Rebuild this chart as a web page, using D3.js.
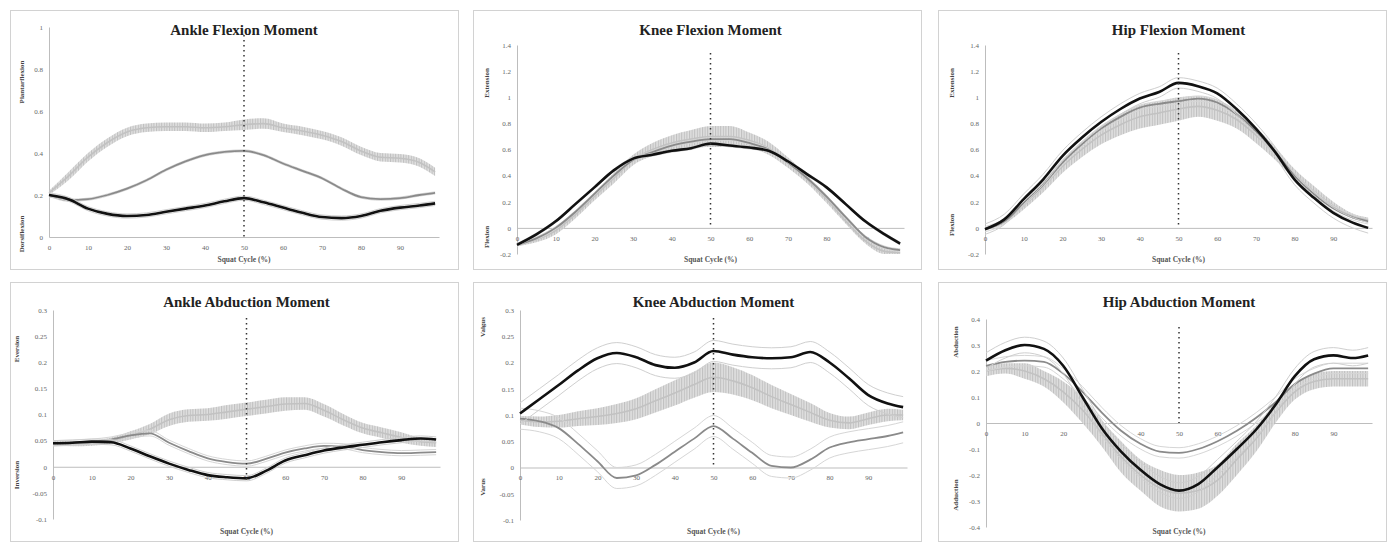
<!DOCTYPE html>
<html>
<head>
<meta charset="utf-8">
<script src="https://cdn.jsdelivr.net/npm/d3@7"></script>
<style>
  body { margin: 0; background: #fff; }
  svg { display: block; }
</style>
</head>
<body>
<div id="chart"></div>
<script>
// ---- data ----
var titles = ["Ankle Flexion Moment", "Knee Flexion Moment", "Hip Flexion Moment",
              "Ankle Abduction Moment", "Knee Abduction Moment", "Hip Abduction Moment"];
var topLabels = ["Plantarflexion", "Extension", "Extension", "Eversion", "Valgus", "Abduction"];
var bottomLabels = ["Dorsiflexion", "Flexion", "Flexion", "Inversion", "Varus", "Adduction"];
var xLabel = "Squat Cycle (%)";
var xTicks = [0, 10, 20, 30, 40, 50, 60, 70, 80, 90];
var yDomains = [[0, 1], [-0.2, 1.4], [-0.2, 1.4], [-0.1, 0.3], [-0.1, 0.3], [-0.4, 0.4]];
var yTicks = [
  [0, 0.2, 0.4, 0.6, 0.8, 1],
  [-0.2, 0, 0.2, 0.4, 0.6, 0.8, 1, 1.2, 1.4],
  [-0.2, 0, 0.2, 0.4, 0.6, 0.8, 1, 1.2, 1.4],
  [-0.1, -0.05, 0, 0.05, 0.1, 0.15, 0.2, 0.25, 0.3],
  [-0.1, -0.05, 0, 0.05, 0.1, 0.15, 0.2, 0.25, 0.3],
  [-0.4, -0.3, -0.2, -0.1, 0, 0.1, 0.2, 0.3, 0.4]
];

// squat cycle points (%)
var pct = [0, 5, 10, 15, 20, 25, 30, 35, 40, 45, 50, 55, 60, 65, 70, 75, 80, 85, 90, 95, 99];

// black group mean
var blackMean = [
  [0.20, 0.18, 0.135, 0.11, 0.10, 0.105, 0.12, 0.135, 0.15, 0.17, 0.185, 0.165, 0.14, 0.115, 0.095, 0.09, 0.10, 0.125, 0.14, 0.15, 0.16],
  [-0.13, -0.05, 0.05, 0.18, 0.31, 0.44, 0.53, 0.56, 0.59, 0.61, 0.645, 0.63, 0.615, 0.59, 0.51, 0.41, 0.31, 0.18, 0.05, -0.05, -0.12],
  [-0.01, 0.065, 0.22, 0.37, 0.55, 0.69, 0.81, 0.91, 0.99, 1.04, 1.11, 1.085, 1.03, 0.91, 0.76, 0.58, 0.37, 0.23, 0.115, 0.04, 0.0],
  [0.045, 0.046, 0.048, 0.047, 0.035, 0.02, 0.006, -0.006, -0.016, -0.02, -0.022, -0.008, 0.012, 0.022, 0.031, 0.037, 0.042, 0.047, 0.051, 0.054, 0.052],
  [0.103, 0.13, 0.157, 0.185, 0.208, 0.218, 0.21, 0.195, 0.19, 0.2, 0.222, 0.215, 0.21, 0.208, 0.21, 0.22, 0.2, 0.17, 0.138, 0.122, 0.115],
  [0.24, 0.28, 0.30, 0.285, 0.22, 0.10, -0.02, -0.11, -0.18, -0.235, -0.26, -0.235, -0.17, -0.10, -0.025, 0.07, 0.18, 0.245, 0.26, 0.25, 0.26]
];
var blackSd = [0.01, 0.01, 0.04, 0.005, 0.02, 0.03];

// grey group mean
var grayMean = [
  [0.20, 0.175, 0.18, 0.20, 0.23, 0.27, 0.32, 0.36, 0.39, 0.405, 0.41, 0.39, 0.35, 0.315, 0.28, 0.23, 0.19, 0.18, 0.185, 0.20, 0.21],
  [-0.13, -0.08, 0.0, 0.12, 0.26, 0.40, 0.52, 0.58, 0.63, 0.66, 0.68, 0.68, 0.65, 0.60, 0.50, 0.38, 0.24, 0.08, -0.07, -0.15, -0.17],
  [-0.01, 0.05, 0.19, 0.33, 0.50, 0.64, 0.76, 0.85, 0.92, 0.95, 0.97, 0.99, 0.96, 0.87, 0.74, 0.58, 0.40, 0.26, 0.15, 0.08, 0.05],
  [0.045, 0.046, 0.048, 0.052, 0.06, 0.064, 0.046, 0.03, 0.016, 0.009, 0.006, 0.015, 0.027, 0.035, 0.04, 0.039, 0.032, 0.028, 0.026, 0.027, 0.028],
  [0.093, 0.088, 0.075, 0.045, 0.012, -0.02, -0.015, 0.005, 0.03, 0.055, 0.079, 0.055, 0.028, 0.003, 0.0, 0.015, 0.038, 0.048, 0.054, 0.06, 0.067],
  [0.22, 0.235, 0.24, 0.235, 0.19, 0.12, 0.04, -0.03, -0.08, -0.11, -0.115, -0.10, -0.07, -0.03, 0.02, 0.08, 0.15, 0.19, 0.21, 0.21, 0.21]
];
var graySd = [0.005, 0.01, 0.02, 0.005, 0.02, 0.02];

// light group mean and error bars
var lightMean = [
  [0.21, 0.29, 0.38, 0.45, 0.50, 0.52, 0.525, 0.525, 0.52, 0.525, 0.535, 0.54, 0.52, 0.505, 0.485, 0.455, 0.41, 0.38, 0.375, 0.355, 0.31],
  [-0.13, -0.09, -0.02, 0.10, 0.24, 0.38, 0.52, 0.60, 0.65, 0.68, 0.70, 0.70, 0.67, 0.61, 0.50, 0.37, 0.22, 0.05, -0.10, -0.18, -0.19],
  [-0.01, 0.05, 0.17, 0.31, 0.47, 0.60, 0.71, 0.79, 0.85, 0.88, 0.91, 0.93, 0.90, 0.83, 0.71, 0.57, 0.41, 0.28, 0.17, 0.09, 0.06],
  [0.045, 0.044, 0.045, 0.05, 0.06, 0.072, 0.09, 0.098, 0.10, 0.105, 0.11, 0.115, 0.12, 0.121, 0.108, 0.09, 0.074, 0.065, 0.056, 0.048, 0.046],
  [0.09, 0.087, 0.088, 0.093, 0.097, 0.103, 0.112, 0.127, 0.142, 0.158, 0.172, 0.165, 0.152, 0.135, 0.12, 0.105, 0.09, 0.085, 0.093, 0.10, 0.10],
  [0.20, 0.21, 0.20, 0.17, 0.12, 0.05, -0.04, -0.13, -0.20, -0.25, -0.27, -0.26, -0.22, -0.14, -0.06, 0.04, 0.12, 0.16, 0.17, 0.17, 0.17]
];
var lightSd = [
  [0.01, 0.02, 0.02, 0.02, 0.02, 0.02, 0.02, 0.02, 0.02, 0.02, 0.025, 0.025, 0.02, 0.02, 0.02, 0.02, 0.02, 0.02, 0.02, 0.02, 0.02],
  [0.01, 0.02, 0.03, 0.03, 0.03, 0.04, 0.04, 0.05, 0.06, 0.07, 0.08, 0.08, 0.06, 0.05, 0.04, 0.03, 0.03, 0.02, 0.02, 0.02, 0.01],
  [0.01, 0.02, 0.03, 0.04, 0.05, 0.06, 0.07, 0.08, 0.09, 0.09, 0.09, 0.08, 0.08, 0.07, 0.06, 0.05, 0.04, 0.04, 0.03, 0.02, 0.02],
  [0.005, 0.005, 0.005, 0.006, 0.008, 0.01, 0.012, 0.012, 0.012, 0.013, 0.013, 0.013, 0.013, 0.012, 0.012, 0.011, 0.01, 0.01, 0.01, 0.008, 0.008],
  [0.008, 0.01, 0.012, 0.014, 0.016, 0.018, 0.02, 0.022, 0.024, 0.025, 0.028, 0.026, 0.024, 0.022, 0.02, 0.018, 0.014, 0.012, 0.012, 0.012, 0.01],
  [0.02, 0.02, 0.03, 0.03, 0.04, 0.05, 0.05, 0.06, 0.06, 0.07, 0.07, 0.07, 0.06, 0.06, 0.05, 0.04, 0.03, 0.03, 0.03, 0.03, 0.03]
];
// lowest value reached by the dotted 50% marker
var markerBottom = [0, 0, 0, -0.025, 0, 0];

// ---- layout ----
var W = 1396, H = 543;
var boxes = [[10, 10], [473, 10], [938, 10], [10, 282], [473, 282], [938, 282]];
var boxW = 448, boxH = 259;
// plot area: [x of 0%, x of 100%, y top, y bottom]
var plots = [[49, 439, 27, 237], [517, 904, 45, 254], [985, 1372, 45, 254],
             [53, 440, 310, 519], [520, 907, 310, 520], [986, 1372, 319, 527]];
var sideX = [22, 487, 952, 17, 483, 956];
var sideY = [[82, 234], [83, 237], [83, 225], [349, 475], [327, 487], [342, 495]];

var svg = d3.select("#chart").append("svg")
  .attr("width", W).attr("height", H)
  .style("font-family", "'Liberation Serif', 'DejaVu Serif', serif");

// hatch pattern for the dense error bars
var defs = svg.append("defs");
var pat = defs.append("pattern").attr("id", "hatch")
  .attr("patternUnits", "userSpaceOnUse").attr("width", 2.6).attr("height", 4);
pat.append("rect").attr("width", 2.6).attr("height", 4).attr("fill", "#dcdcdc");
pat.append("line").attr("x1", 0.6).attr("x2", 0.6).attr("y1", 0).attr("y2", 4)
  .attr("stroke", "#a9a9a9").attr("stroke-width", 0.8);

titles.forEach(function (title, i) {
  var b = boxes[i], p = plots[i];
  var g = svg.append("g");

  g.append("rect").attr("x", b[0] + 0.5).attr("y", b[1] + 0.5)
    .attr("width", boxW).attr("height", boxH)
    .attr("fill", "#fff").attr("stroke", "#d2d2d2");

  var x = d3.scaleLinear().domain([0, 100]).range([p[0], p[1]]);
  var y = d3.scaleLinear().domain(yDomains[i]).range([p[3], p[2]]);
  var cx = (p[0] + p[1]) / 2;

  // title
  g.append("text").attr("x", cx).attr("y", b[1] + 25)
    .attr("text-anchor", "middle").attr("font-size", 15).attr("font-weight", "bold")
    .attr("fill", "#222").text(title);

  // y axis
  var ya = g.append("g").attr("transform", "translate(" + p[0] + ",0)")
    .call(d3.axisLeft(y).tickValues(yTicks[i]).tickSize(0).tickPadding(6).tickFormat(function (d) { return String(d); }));
  ya.select(".domain").attr("stroke", "#bdbdbd");
  ya.selectAll("text").attr("font-size", 7).attr("fill", "#666")
    .style("font-family", "'Liberation Serif', serif");

  // x axis along the zero line
  var xa = g.append("g").attr("transform", "translate(0," + y(0) + ")")
    .call(d3.axisBottom(x).tickValues(xTicks).tickSize(0).tickPadding(8).tickFormat(d3.format("d")));
  xa.select(".domain").attr("stroke", "#bdbdbd");
  xa.selectAll("text").attr("font-size", 7).attr("fill", "#666")
    .style("font-family", "'Liberation Serif', serif");

  // x title
  g.append("text").attr("x", cx).attr("y", b[1] + boxH - 7)
    .attr("text-anchor", "middle").attr("font-size", 7.5).attr("font-weight", "bold")
    .attr("fill", "#555").text(xLabel);

  // side labels
  [topLabels[i], bottomLabels[i]].forEach(function (lab, k) {
    g.append("text")
      .attr("transform", "translate(" + sideX[i] + "," + sideY[i][k] + ") rotate(-90)")
      .attr("text-anchor", "middle").attr("dy", "0.35em")
      .attr("font-size", 7).attr("font-weight", "bold").attr("fill", "#444").text(lab);
  });

  var rows = pct.map(function (d, j) {
    return {
      pct: d,
      black: blackMean[i][j], gray: grayMean[i][j],
      light: lightMean[i][j], lsd: lightSd[i][j]
    };
  });
  var curve = d3.curveMonotoneX;
  function lineOf(f) {
    return d3.line().x(function (d) { return x(d.pct); }).y(function (d) { return y(f(d)); }).curve(curve);
  }

  // light group: error-bar band + mean
  g.append("path").datum(rows)
    .attr("d", d3.area().x(function (d) { return x(d.pct); })
      .y0(function (d) { return y(d.light - d.lsd); })
      .y1(function (d) { return y(d.light + d.lsd); }).curve(curve))
    .attr("fill", "url(#hatch)").attr("opacity", 0.9);
  g.append("path").datum(rows).attr("d", lineOf(function (d) { return d.light; }))
    .attr("fill", "none").attr("stroke", "#c2c2c2").attr("stroke-width", 1.6);

  // grey group with envelope
  [-1, 1].forEach(function (s) {
    g.append("path").datum(rows).attr("d", lineOf(function (d) { return d.gray + s * graySd[i]; }))
      .attr("fill", "none").attr("stroke", "#d6d6d6").attr("stroke-width", 1);
  });
  g.append("path").datum(rows).attr("d", lineOf(function (d) { return d.gray; }))
    .attr("fill", "none").attr("stroke", "#8a8a8a").attr("stroke-width", 1.8);

  // black group with envelope
  [-1, 1].forEach(function (s) {
    g.append("path").datum(rows).attr("d", lineOf(function (d) { return d.black + s * blackSd[i]; }))
      .attr("fill", "none").attr("stroke", "#cfcfcf").attr("stroke-width", 1);
  });
  g.append("path").datum(rows).attr("d", lineOf(function (d) { return d.black; }))
    .attr("fill", "none").attr("stroke", "#111").attr("stroke-width", 2.6);

  // dotted marker at 50%
  g.append("line").attr("x1", x(50)).attr("x2", x(50))
    .attr("y1", y(yDomains[i][1]) + 8).attr("y2", y(markerBottom[i]))
    .attr("stroke", "#333").attr("stroke-width", 1.5).attr("stroke-dasharray", "1.5,3.5");
});
</script>
</body>
</html>
